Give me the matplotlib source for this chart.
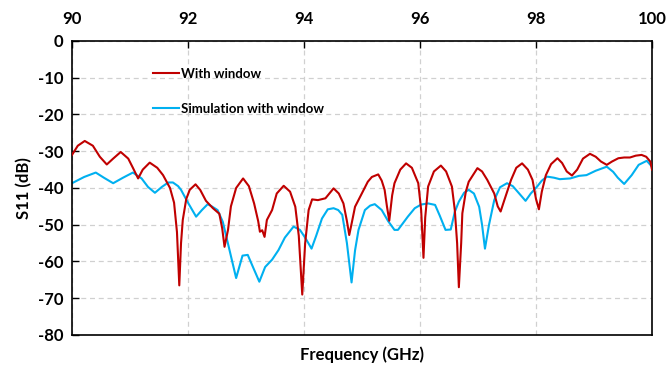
import matplotlib
matplotlib.use("Agg")
import matplotlib.pyplot as plt

# Measured "With window"
freq_meas = [90.00, 90.10, 90.22, 90.36, 90.48, 90.60, 90.71, 90.84, 90.97, 91.05, 91.14, 91.22, 91.34, 91.47,
             91.57, 91.69, 91.76, 91.81, 91.85, 91.88, 91.91, 91.97, 92.03, 92.13, 92.21, 92.31, 92.43, 92.54,
             92.59, 92.63, 92.69, 92.74, 92.83, 92.95, 93.05, 93.14, 93.21, 93.24, 93.28, 93.32, 93.36, 93.45,
             93.53, 93.65, 93.76, 93.85, 93.91, 93.97, 94.02, 94.08, 94.14, 94.24, 94.37, 94.51, 94.60, 94.68,
             94.74, 94.78, 94.83, 94.88, 95.00, 95.10, 95.17, 95.28, 95.34, 95.39, 95.43, 95.47, 95.52, 95.56,
             95.66, 95.76, 95.86, 95.97, 96.02, 96.06, 96.09, 96.14, 96.24, 96.36, 96.45, 96.55, 96.60, 96.64,
             96.67, 96.71, 96.73, 96.79, 96.84, 96.99, 97.07, 97.16, 97.28, 97.34, 97.39, 97.45, 97.57, 97.66,
             97.76, 97.86, 97.94, 98.00, 98.05, 98.10, 98.17, 98.26, 98.37, 98.45, 98.53, 98.62, 98.71, 98.81,
             98.93, 99.03, 99.12, 99.22, 99.31, 99.42, 99.52, 99.62, 99.72, 99.82, 99.90, 99.97, 100.00]
s11_meas = [-31.0, -28.5, -27.2, -28.5, -31.5, -33.6, -32.0, -30.2, -32.0, -34.5, -37.4, -35.0, -33.1, -34.5,
            -36.5, -40.0, -44.0, -52.0, -66.5, -55.0, -48.7, -43.0, -40.5, -39.0, -40.5, -43.5, -45.5, -47.0,
            -51.0, -56.0, -51.4, -45.0, -40.0, -37.4, -39.5, -44.2, -49.0, -51.9, -51.5, -53.3, -48.7, -46.0,
            -41.5, -39.4, -41.0, -45.1, -53.0, -69.0, -55.0, -46.0, -43.1, -43.3, -42.8, -40.1, -41.5, -44.2,
            -49.0, -52.8, -49.0, -45.1, -41.4, -38.3, -37.0, -36.3, -38.0, -40.5, -45.0, -48.9, -42.0, -38.7,
            -35.0, -33.3, -34.5, -38.7, -46.0, -59.0, -48.0, -39.6, -35.5, -33.9, -35.5, -39.6, -46.0, -55.0,
            -67.0, -55.0, -46.9, -41.0, -38.3, -34.6, -35.5, -37.8, -41.5, -45.0, -46.4, -43.5, -37.8, -34.5,
            -33.3, -35.0, -37.8, -43.0, -45.8, -41.0, -36.5, -33.5, -31.9, -33.2, -35.5, -36.6, -35.0, -32.0,
            -30.7, -31.5, -32.8, -33.7, -32.8, -31.9, -31.7, -31.7, -31.2, -31.0, -31.5, -32.8, -35.0]

# Simulation with window
freq_sim = [90.00, 90.21, 90.41, 90.55, 90.71, 90.88, 91.05, 91.20, 91.31, 91.43, 91.55, 91.66, 91.74, 91.83,
            91.88, 92.00, 92.14, 92.24, 92.34, 92.41, 92.51, 92.60, 92.71, 92.83, 92.94, 93.03, 93.12, 93.23,
            93.33, 93.45, 93.56, 93.67, 93.82, 93.93, 94.02, 94.13, 94.21, 94.31, 94.41, 94.51, 94.59, 94.66,
            94.74, 94.82, 94.88, 94.94, 95.05, 95.14, 95.22, 95.34, 95.45, 95.56, 95.62, 95.71, 95.79, 95.91,
            96.02, 96.14, 96.26, 96.34, 96.44, 96.53, 96.60, 96.67, 96.76, 96.84, 96.93, 97.02, 97.07, 97.12,
            97.19, 97.28, 97.38, 97.50, 97.60, 97.71, 97.82, 97.91, 98.02, 98.10, 98.19, 98.31, 98.41, 98.59,
            98.74, 98.87, 99.03, 99.22, 99.33, 99.41, 99.52, 99.65, 99.77, 99.91, 100.00]
s11_sim = [-38.7, -37.0, -35.8, -37.2, -38.7, -37.2, -35.8, -37.4, -39.7, -41.3, -39.7, -38.5, -38.5, -39.5,
           -40.5, -44.0, -47.8, -46.0, -44.4, -45.0, -46.0, -49.2, -56.5, -64.5, -58.4, -58.2, -61.5, -65.5,
           -61.5, -59.5, -56.9, -53.5, -50.5, -51.4, -53.5, -56.5, -53.0, -48.3, -45.8, -45.5, -46.0, -47.3,
           -55.0, -65.7, -57.0, -51.4, -46.0, -44.8, -44.4, -46.0, -49.0, -51.4, -51.4, -49.5, -47.8, -45.5,
           -44.5, -44.2, -44.6, -47.5, -51.4, -51.3, -46.5, -43.7, -41.3, -40.5, -41.5, -45.1, -50.0, -56.5,
           -50.0, -43.3, -39.8, -38.7, -39.5, -41.5, -43.5, -41.5, -39.6, -38.0, -36.9, -37.2, -37.6, -37.4,
           -36.7, -36.5, -35.3, -34.2, -35.6, -37.2, -38.9, -36.5, -33.7, -32.6, -34.2]

x_ticks = [90, 92, 94, 96, 98, 100]
y_ticks = [0, -10, -20, -30, -40, -50, -60, -70, -80]

FONT = ["Lato", "DejaVu Sans"]
plt.rcParams["font.family"] = FONT
plt.rcParams["axes.unicode_minus"] = False

fig = plt.figure(figsize=(6.69, 3.67), dpi=100)
ax = fig.add_axes([0.1076, 0.0872, 0.8670, 0.8011])

ax.plot(freq_meas, s11_meas, color="#C00000", lw=1.5, label="With window", zorder=3)
ax.plot(freq_sim, s11_sim, color="#00B0F0", lw=1.5, label="Simulation with window", zorder=2)

ax.set_xlim(90, 100)
ax.set_ylim(-80, 0)
ax.set_xticks(x_ticks)
ax.set_yticks(y_ticks)
ax.xaxis.tick_top()
ax.tick_params(axis="x", direction="in", length=5, width=1, pad=10, labelsize=12)
ax.tick_params(axis="y", direction="in", length=5, width=1, pad=6, labelsize=12)
for lab in ax.get_xticklabels() + ax.get_yticklabels():
    lab.set_fontweight("bold")

ax.grid(True, color="#d0d0d0", linestyle=(0, (4, 3)), linewidth=0.9)
ax.set_axisbelow(True)
for sp in ax.spines.values():
    sp.set_color("black")
    sp.set_linewidth(1.2)

ax.set_xlabel("Frequency (GHz)", fontsize=12, fontweight="bold", labelpad=8)
ax.xaxis.set_label_position("bottom")
ax.set_ylabel("S11 (dB)", fontsize=12, fontweight="bold", labelpad=4)

leg = ax.legend(loc="upper left", bbox_to_anchor=(0.12, 0.95), frameon=False,
                prop={"family": FONT, "weight": "bold", "size": 9.5},
                handlelength=1.9, handletextpad=0.2, labelspacing=1.75)

fig.savefig("out.png", dpi=100)
